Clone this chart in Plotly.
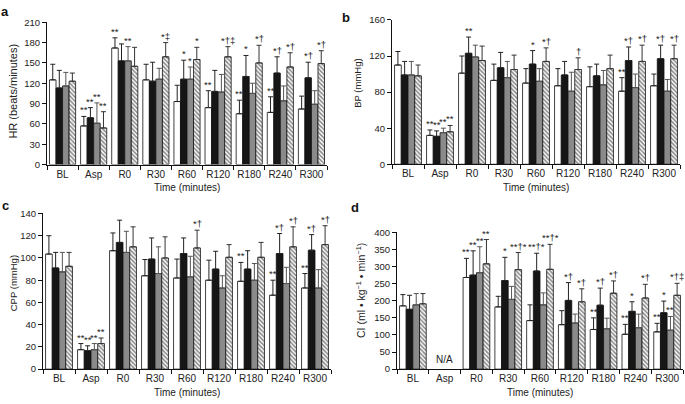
import plotly.graph_objects as go

categories = ["BL", "Asp", "R0", "R30", "R60", "R120", "R180", "R240", "R300"]
group_names = ["Group 1", "Group 2", "Group 3", "Group 4"]

# Panel a: HR (beats/minutes) — means and SD (upper error)
hr_mean = [
    [125, 57, 172, 125, 93, 84, 75, 77, 82],
    [113, 69, 153, 123, 126, 108, 130, 135, 128],
    [116, 61, 153, 126, 126, 107, 105, 94, 89],
    [123, 54, 145, 159, 155, 159, 150, 144, 149],
]
hr_sd = [
    [23, 14, 15, 23, 24, 25, 20, 23, 19],
    [26, 15, 25, 28, 28, 31, 31, 24, 23],
    [20, 30, 21, 16, 18, 26, 15, 22, 20],
    [12, 24, 28, 21, 18, 15, 26, 21, 19],
]

# Panel b: BP (mmHg)
bp_mean = [
    [110, 32, 101, 93, 90, 87, 86, 81, 87],
    [99, 31, 123, 107, 111, 99, 98, 115, 117],
    [99, 35, 119, 96, 92, 81, 88, 85, 81],
    [98, 36, 115, 105, 114, 105, 106, 114, 117],
]
bp_sd = [
    [15, 6, 19, 18, 16, 19, 22, 15, 13],
    [15, 6, 18, 17, 15, 15, 13, 15, 15],
    [15, 5, 13, 18, 14, 21, 16, 15, 13],
    [12, 7, 16, 16, 15, 13, 15, 18, 15],
]

# Panel c: CPP (mmHg)
cpp_mean = [
    [103.5, 17.5, 106.5, 84, 82, 80, 79, 66.5, 73],
    [91, 16.6, 114, 99, 104, 90, 90, 104, 107],
    [87.5, 17.5, 105, 86, 83, 73, 80, 77, 73],
    [92.5, 23, 110, 100, 109, 100.6, 100.6, 110, 112],
]
cpp_sd = [
    [16.5, 5.5, 16, 14.6, 17, 18, 17, 13.5, 13],
    [14, 4.4, 20, 19, 14, 16, 16.5, 18, 14],
    [17.5, 5.5, 19, 24, 18.5, 11, 15, 14.6, 16.5],
    [12.5, 5, 18, 19, 16, 11.4, 13.4, 18, 17],
]

# Panel d: CI (ml • kg-1 • min-1); Asp not available
ci_mean = [
    [185, None, 268, 182, 142, 130, 116, 102, 109],
    [175, None, 275, 259, 287, 201, 187, 169, 165],
    [188, None, 282, 204, 188, 135, 118, 121, 114],
    [191, None, 308, 291, 292, 197, 222, 208, 216],
]
ci_sd = [
    [33, None, 56, 31, 46, 41, 34, 29, 25],
    [41, None, 71, 68, 52, 52, 50, 28, 34],
    [33, None, 76, 38, 35, 26, 31, 40, 40],
    [30, None, 71, 50, 73, 38, 36, 40, 35],
]

# Significance marks: (category, group index, text)
hr_marks = [("Asp", 0, "**"), ("Asp", 1, "**"), ("Asp", 2, "**"), ("Asp", 3, "**"),
            ("R0", 0, "**"), ("R0", 2, "**"), ("R30", 3, "*‡"),
            ("R60", 1, "*"), ("R60", 2, "*"), ("R60", 3, "*"),
            ("R120", 0, "**"), ("R120", 3, "*†‡"),
            ("R180", 0, "**"), ("R180", 1, "*"), ("R180", 3, "*†"),
            ("R240", 0, "**"), ("R240", 1, "*†"), ("R240", 3, "*†"),
            ("R300", 1, "*†"), ("R300", 3, "*†")]
bp_marks = [("Asp", 0, "**"), ("Asp", 1, "**"), ("Asp", 2, "**"), ("Asp", 3, "**"),
            ("R0", 1, "**"), ("R60", 1, "*"), ("R60", 3, "*†"), ("R120", 3, "†"),
            ("R240", 0, "**"), ("R240", 1, "*†"), ("R240", 3, "*†"),
            ("R300", 1, "*†"), ("R300", 3, "*†")]
cpp_marks = [("Asp", 0, "**"), ("Asp", 1, "**"), ("Asp", 2, "**"), ("Asp", 3, "**"),
             ("R60", 3, "*†"), ("R180", 0, "**"),
             ("R240", 0, "**"), ("R240", 1, "*†"), ("R240", 3, "*†"),
             ("R300", 0, "**"), ("R300", 1, "*†"), ("R300", 3, "*†")]
ci_marks = [("R0", 0, "**"), ("R0", 1, "**"), ("R0", 2, "**"), ("R0", 3, "**"),
            ("R30", 1, "*"), ("R30", 3, "**†*"),
            ("R60", 1, "**†*"), ("R60", 3, "**†*"),
            ("R120", 1, "*†"), ("R120", 3, "*†"),
            ("R180", 0, "**"), ("R180", 1, "*†"), ("R180", 3, "*†"),
            ("R240", 0, "**"), ("R240", 1, "*"), ("R240", 3, "*†"),
            ("R300", 0, "**"), ("R300", 1, "*"), ("R300", 2, "**"), ("R300", 3, "*†‡")]

W, H = 685, 404
FONT = "Liberation Sans, Arial, Helvetica, sans-serif"
BARGAP = 0.16


def P(x, y):
    return x / W, 1 - y / H


panels = [
    dict(mean=hr_mean, sd=hr_sd, marks=hr_marks, xd=(47, 327), yd=(163, 16.7),
         ymax=210, dtick=30, ytitle="HR (beats/minutes)", yt_pos=(13, 88), yt_size=11,
         letter="a", lpos=(5, 6), xt_y=187),
    dict(mean=bp_mean, sd=bp_sd, marks=bp_marks, xd=(392, 680), yd=(162.7, 14.3),
         ymax=160, dtick=40, ytitle="BP (mmHg)", yt_pos=(358, 80), yt_size=9.5,
         letter="b", lpos=(346, 12), xt_y=187),
    dict(mean=cpp_mean, sd=cpp_sd, marks=cpp_marks, xd=(43, 331), yd=(373.3, 213.3),
         ymax=140, dtick=20, ytitle="CPP (mmHg)", yt_pos=(13, 285), yt_size=9.5,
         letter="c", lpos=(5, 205), xt_y=397),
    dict(mean=ci_mean, sd=ci_sd, marks=ci_marks, xd=(397, 683), yd=(373.3, 232.7),
         ymax=400, dtick=50, ytitle="CI (ml • kg<sup>−1</sup> • min<sup>−1</sup>)",
         yt_pos=(360, 293), yt_size=10.5, letter="d", lpos=(355, 207), xt_y=397),
]

fills = ["white", "#161616", "#8a8a8a", "white"]
err_colors = ["#222222", "#222222", "#555555", "#333333"]

fig = go.Figure()
annotations = []
layout = {}

for k, p in enumerate(panels):
    sfx = "" if k == 0 else str(k + 1)
    xa, ya = "x" + sfx, "y" + sfx
    for g in range(4):
        marker = dict(color=fills[g], line=dict(color="#111111", width=0.8))
        if g == 3:
            marker["pattern"] = dict(shape="\\", fgcolor="#1a1a1a", bgcolor="white",
                                     size=3, solidity=0.55)
        fig.add_trace(go.Bar(
            x=categories, y=p["mean"][g], name=group_names[g],
            marker=marker, xaxis=xa, yaxis=ya, showlegend=False,
            error_y=dict(type="data", symmetric=False, array=p["sd"][g],
                         arrayminus=[0 if v is not None else None for v in p["sd"][g]],
                         color=err_colors[g], thickness=1, width=2.5),
        ))
    # significance annotations
    bw = (1 - BARGAP) / 4
    for cat, g, txt in p["marks"]:
        i = categories.index(cat)
        top = p["mean"][g][i] + p["sd"][g][i]
        annotations.append(dict(
            x=i + bw * (g - 1.5), y=top, xref=xa, yref=ya, text=txt,
            showarrow=False, yanchor="bottom", xanchor="center", yshift=-1,
            font=dict(family=FONT, size=9.5, color="#222222")))
    # axes
    x0, x1 = p["xd"]
    yb, yt = p["yd"]
    layout["xaxis" + sfx] = dict(
        domain=[x0 / W, x1 / W], anchor=ya, type="category",
        categoryorder="array", categoryarray=categories, range=[-0.5, 8.5],
        showline=True, linecolor="#111111", linewidth=1, ticks="outside",
        tickson="boundaries", ticklen=4, tickcolor="#111111", showgrid=False,
        zeroline=False, tickangle=0,
        tickfont=dict(family=FONT, size=10, color="#222222"))
    layout["yaxis" + sfx] = dict(
        domain=[1 - yb / H, 1 - yt / H], anchor=xa, range=[0, p["ymax"]],
        dtick=p["dtick"], tick0=0, showline=True, linecolor="#111111", linewidth=1,
        ticks="outside", ticklen=4, tickcolor="#111111", showgrid=False,
        zeroline=False, tickfont=dict(family=FONT, size=9.5, color="#222222"))
    # x title
    cx, cy = P((x0 + x1) / 2, p["xt_y"])
    annotations.append(dict(x=cx, y=cy, xref="paper", yref="paper",
                            text="Time (minutes)", showarrow=False,
                            xanchor="center", yanchor="middle",
                            font=dict(family=FONT, size=10, color="#222222")))
    # y title
    tx, ty = P(*p["yt_pos"])
    annotations.append(dict(x=tx, y=ty, xref="paper", yref="paper",
                            text=p["ytitle"], showarrow=False, textangle=-90,
                            xanchor="center", yanchor="middle",
                            font=dict(family=FONT, size=p["yt_size"], color="#222222")))
    # panel letter
    lx, ly = P(*p["lpos"])
    annotations.append(dict(x=lx, y=ly, xref="paper", yref="paper",
                            text="<b>" + p["letter"] + "</b>", showarrow=False,
                            xanchor="center", yanchor="middle",
                            font=dict(family=FONT, size=13, color="#111111")))

# N/A label in panel d
annotations.append(dict(x=categories.index("Asp"), y=0, xref="x4", yref="y4",
                        text="N/A", showarrow=False, yanchor="bottom", yshift=2,
                        font=dict(family=FONT, size=10, color="#222222")))

fig.update_layout(
    width=W, height=H, margin=dict(l=0, r=0, t=0, b=0),
    paper_bgcolor="white", plot_bgcolor="white",
    barmode="group", bargap=BARGAP, bargroupgap=0,
    annotations=annotations, **layout)

fig.write_html("out.html", config={"displayModeBar": False},
               post_script="document.body.style.margin='0';document.body.style.overflow='hidden';")
